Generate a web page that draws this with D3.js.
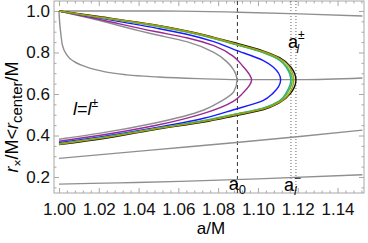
<!DOCTYPE html>
<html>
<head>
<meta charset="utf-8">
<script src="https://cdn.jsdelivr.net/npm/d3@7"></script>
<style>
  body { margin: 0; background: #fff; }
  svg { display: block; font-family: "Liberation Sans", Arial, sans-serif; }
  .frame .domain { display: none; }
  .frame line { stroke: #a8a8a8; }
  .frame text { fill: #111; font-size: 17px; }
</style>
</head>
<body>
<div id="chart"></div>
<script>
// chart size and plot box
const width = 368, height = 243,
    margin = ({ top: 1, right: 4, bottom: 50, left: 54 });

// tick labels
const xTicks = [1.00, 1.02, 1.04, 1.06, 1.08, 1.10, 1.12, 1.14];
const yTicks = [0.2, 0.4, 0.6, 0.8, 1.0];

// marked spins
const a0 = 1.0897, aMinus = 1.1166, aPlus = 1.1191;

// C-shaped curves [a/M, r/M], upper branch -> tip -> lower branch
const grayC = [[1.000,1.000],[1.020,0.955],[1.040,0.905],[1.0477,0.888],[1.0642,0.852],[1.0778,0.800],[1.0843,0.756],[1.0878,0.716],[1.0895,0.667],
    [1.0878,0.610],[1.0811,0.563],[1.0728,0.523],[1.0477,0.459],[1.020,0.410],[1.000,0.382]];
const purpleC = [[1.000,1.000],[1.020,0.960],[1.0477,0.902],[1.0642,0.871],[1.0778,0.833],[1.0878,0.780],[1.0923,0.735],[1.0968,0.667],
    [1.0923,0.603],[1.0878,0.566],[1.0728,0.507],[1.0477,0.447],[1.020,0.400],[1.000,0.372]];
const blueC = [[1.000,1.000],[1.020,0.967],[1.0477,0.9195],[1.0642,0.888],[1.0778,0.852],[1.0878,0.815],[1.1025,0.762],[1.1075,0.731],[1.1114,0.667],
    [1.1075,0.603],[1.1025,0.568],[1.0878,0.524],[1.0728,0.483],[1.0477,0.436],[1.020,0.392],[1.000,0.365]];
const tealC = [[1.000,1.000],[1.020,0.969],[1.0477,0.929],[1.0642,0.898],[1.0778,0.867],[1.0878,0.840],[1.1025,0.799],[1.1109,0.762],[1.1145,0.724],[1.1165,0.667],
    [1.1145,0.611],[1.1109,0.568],[1.1025,0.532],[1.0878,0.502],[1.0728,0.472],[1.0477,0.433],[1.020,0.388],[1.000,0.361]];
const greenC = [[1.000,1.000],[1.020,0.970],[1.0477,0.930],[1.0642,0.899],[1.0778,0.868],[1.0878,0.842],[1.1025,0.801],[1.1109,0.765],[1.115,0.725],[1.1172,0.667],
    [1.115,0.609],[1.1109,0.565],[1.1025,0.530],[1.0878,0.500],[1.0728,0.470],[1.0477,0.432],[1.020,0.387],[1.000,0.360]];
const oliveC = [[1.000,1.000],[1.020,0.971],[1.0477,0.9325],[1.0642,0.902],[1.0778,0.871],[1.0878,0.845],[1.1025,0.805],[1.1109,0.771],[1.116,0.727],[1.118,0.667],
    [1.116,0.607],[1.1109,0.561],[1.1025,0.527],[1.0878,0.497],[1.0728,0.468],[1.0477,0.430],[1.020,0.385],[1.000,0.358]];
const blackC = [[1.000,1.000],[1.020,0.973],[1.0477,0.934],[1.0642,0.904],[1.0778,0.873],[1.0878,0.848],[1.1025,0.808],[1.1109,0.775],[1.1165,0.730],[1.1191,0.667],
    [1.1165,0.604],[1.1109,0.558],[1.1025,0.524],[1.0878,0.494],[1.0728,0.465],[1.0477,0.428],[1.020,0.382],[1.000,0.356]];

// plain gray curves
const grayTop = [[1.000,1.000],[1.030,1.000],[1.060,0.999],[1.090,0.994],[1.121,0.986],[1.1525,0.976]];
const grayKnee = [[1.000,1.000],[1.0003,0.950],[1.001,0.885],[1.0017,0.836],[1.0042,0.785],[1.0075,0.757],[1.011,0.740],[1.0226,0.708],[1.0343,0.692],
    [1.050,0.682],[1.070,0.674],[1.090,0.669],[1.121,0.669],[1.1525,0.677]];
const grayMid = [[1.000,0.290],[1.0477,0.331],[1.0878,0.365],[1.121,0.395],[1.1525,0.426]];
const grayLow = [[1.000,0.166],[1.030,0.172],[1.061,0.179],[1.100,0.191],[1.1525,0.211]];

// C curves are single valued in r, the others in a
const curves = [
    { data: grayTop, color: "#8f8f8f", c: "x" },
    { data: grayKnee, color: "#8f8f8f", c: "x" },
    { data: grayMid, color: "#8f8f8f", c: "x" },
    { data: grayLow, color: "#8f8f8f", c: "x" },
    { data: grayC, color: "#8f8f8f", c: "y" },
    { data: purpleC, color: "#9a2a92", c: "y" },
    { data: blueC, color: "#1a1aff", c: "y" },
    { data: tealC, color: "#1fb0a8", c: "y" },
    { data: greenC, color: "#5cb335", c: "y" },
    { data: blackC, color: "#111111", c: "y" },
    { data: oliveC, color: "#a3a30c", c: "y" }
];

const svg = d3.select("#chart")
    .append("svg")
    .attr("width", width)
    .attr("height", height);

// scales
let x = d3.scaleLinear()
    .domain([0.9975, 1.1533])
    .range([margin.left, width - margin.right]);
let y = d3.scaleLinear()
    .domain([0.123, 1.048])
    .range([height - margin.bottom, margin.top]);

const x0 = margin.left, x1 = width - margin.right,
    y0 = height - margin.bottom, y1 = margin.top;

// minor tick values
const xMinor = d3.range(1.0, 1.1531, 0.004).filter(v => !xTicks.some(t => Math.abs(t - v) < 1e-6));
const yMinor = d3.range(0.15, 1.046, 0.05).filter(v => !yTicks.some(t => Math.abs(t - v) < 1e-6));

// frame box
svg.append("rect")
    .attr("x", x0).attr("y", y1)
    .attr("width", x1 - x0).attr("height", y0 - y1)
    .attr("fill", "none")
    .attr("stroke", "#a8a8a8");

// bottom axis with labels
svg.append("g")
    .attr("class", "frame")
    .attr("transform", `translate(0,${y0})`)
    .call(d3.axisBottom(x).tickValues(xTicks).tickSize(-5).tickPadding(10).tickFormat(d3.format(".2f")));
svg.append("g")
    .attr("class", "frame")
    .attr("transform", `translate(0,${y0})`)
    .call(d3.axisBottom(x).tickValues(xMinor).tickSize(-2.5).tickFormat(""));
// top mirror ticks
svg.append("g")
    .attr("class", "frame")
    .attr("transform", `translate(0,${y1})`)
    .call(d3.axisTop(x).tickValues(xTicks).tickSize(-5).tickFormat(""));
svg.append("g")
    .attr("class", "frame")
    .attr("transform", `translate(0,${y1})`)
    .call(d3.axisTop(x).tickValues(xMinor).tickSize(-2.5).tickFormat(""));

// left axis with labels
svg.append("g")
    .attr("class", "frame")
    .attr("transform", `translate(${x0},0)`)
    .call(d3.axisLeft(y).tickValues(yTicks).tickSize(-5).tickPadding(4).tickFormat(d3.format(".1f")));
svg.append("g")
    .attr("class", "frame")
    .attr("transform", `translate(${x0},0)`)
    .call(d3.axisLeft(y).tickValues(yMinor).tickSize(-2.5).tickFormat(""));
// right mirror ticks
svg.append("g")
    .attr("class", "frame")
    .attr("transform", `translate(${x1},0)`)
    .call(d3.axisRight(y).tickValues(yTicks).tickSize(-5).tickFormat(""));
svg.append("g")
    .attr("class", "frame")
    .attr("transform", `translate(${x1},0)`)
    .call(d3.axisRight(y).tickValues(yMinor).tickSize(-2.5).tickFormat(""));

// clip curves to the frame
svg.append("clipPath").attr("id", "plot")
    .append("rect").attr("x", x0).attr("y", y1).attr("width", x1 - x0).attr("height", y0 - y1);
const plot = svg.append("g").attr("clip-path", "url(#plot)");

// spin markers
plot.append("line")
    .attr("x1", x(a0)).attr("x2", x(a0)).attr("y1", y1).attr("y2", y0)
    .attr("stroke", "#444").attr("stroke-width", 1.1).attr("stroke-dasharray", "4,3");
for (let a of [aMinus, aPlus]) {
    plot.append("line")
        .attr("x1", x(a)).attr("x2", x(a)).attr("y1", y1).attr("y2", y0)
        .attr("stroke", "#666").attr("stroke-width", 1).attr("stroke-dasharray", "1,2");
}

// the curves
let lineX = d3.line()
    .x(d => x(d[0]))
    .y(d => y(d[1]))
    .curve(d3.curveMonotoneX);
let lineY = d3.line()
    .x(d => x(d[0]))
    .y(d => y(d[1]))
    .curve(d3.curveMonotoneY);
plot.selectAll("path.curve")
    .data(curves)
    .join("path")
    .attr("class", "curve")
    .attr("d", d => (d.c === "y" ? lineY : lineX)(d.data))
    .attr("fill", "none")
    .attr("stroke", d => d.color)
    .attr("stroke-width", 1.4);

// axis titles
svg.append("text")
    .attr("x", 211).attr("y", 234)
    .attr("text-anchor", "middle")
    .attr("font-size", 17)
    .text("a/M");

const yl = svg.append("text")
    .attr("transform", "translate(18,117) rotate(-90)")
    .attr("text-anchor", "middle")
    .attr("font-size", 18);
yl.append("tspan").attr("font-style", "italic").text("r");
yl.append("tspan").attr("font-size", 12).attr("dy", 4).text("×");
yl.append("tspan").attr("dy", -4).text("/M<");
yl.append("tspan").attr("font-style", "italic").text("r");
yl.append("tspan").attr("font-size", 15).attr("dy", 4).text("center");
yl.append("tspan").attr("dy", -4).text("/M");

// annotations
const lab = svg.append("text")
    .attr("x", 73).attr("y", 115)
    .attr("font-size", 18);
lab.append("tspan").attr("font-style", "italic").text("l");
lab.append("tspan").text("=");
lab.append("tspan").attr("font-style", "italic").text("l");
lab.append("tspan").attr("font-size", 12).attr("dy", -8).text("±");

const aPm = svg.append("text")
    .attr("x", x(aPlus) - 8).attr("y", 48)
    .attr("font-size", 18);
aPm.append("tspan").text("a");
aPm.append("tspan").attr("font-size", 12).attr("dy", -9).text("±");
aPm.append("tspan").attr("font-size", 12).attr("font-style", "italic").attr("dx", -8).attr("dy", 14).text("l");

const aZero = svg.append("text")
    .attr("x", x(a0)).attr("y", 190)
    .attr("text-anchor", "middle")
    .attr("font-size", 18);
aZero.append("tspan").text("a");
aZero.append("tspan").attr("font-size", 13).attr("dy", 4).text("0");

const aMin = svg.append("text")
    .attr("x", x(aMinus) - 7).attr("y", 191)
    .attr("font-size", 18);
aMin.append("tspan").text("a");
aMin.append("tspan").attr("font-size", 12).attr("dy", -9).text("−");
aMin.append("tspan").attr("font-size", 12).attr("font-style", "italic").attr("dx", -7).attr("dy", 13).text("l");
</script>
</body>
</html>
